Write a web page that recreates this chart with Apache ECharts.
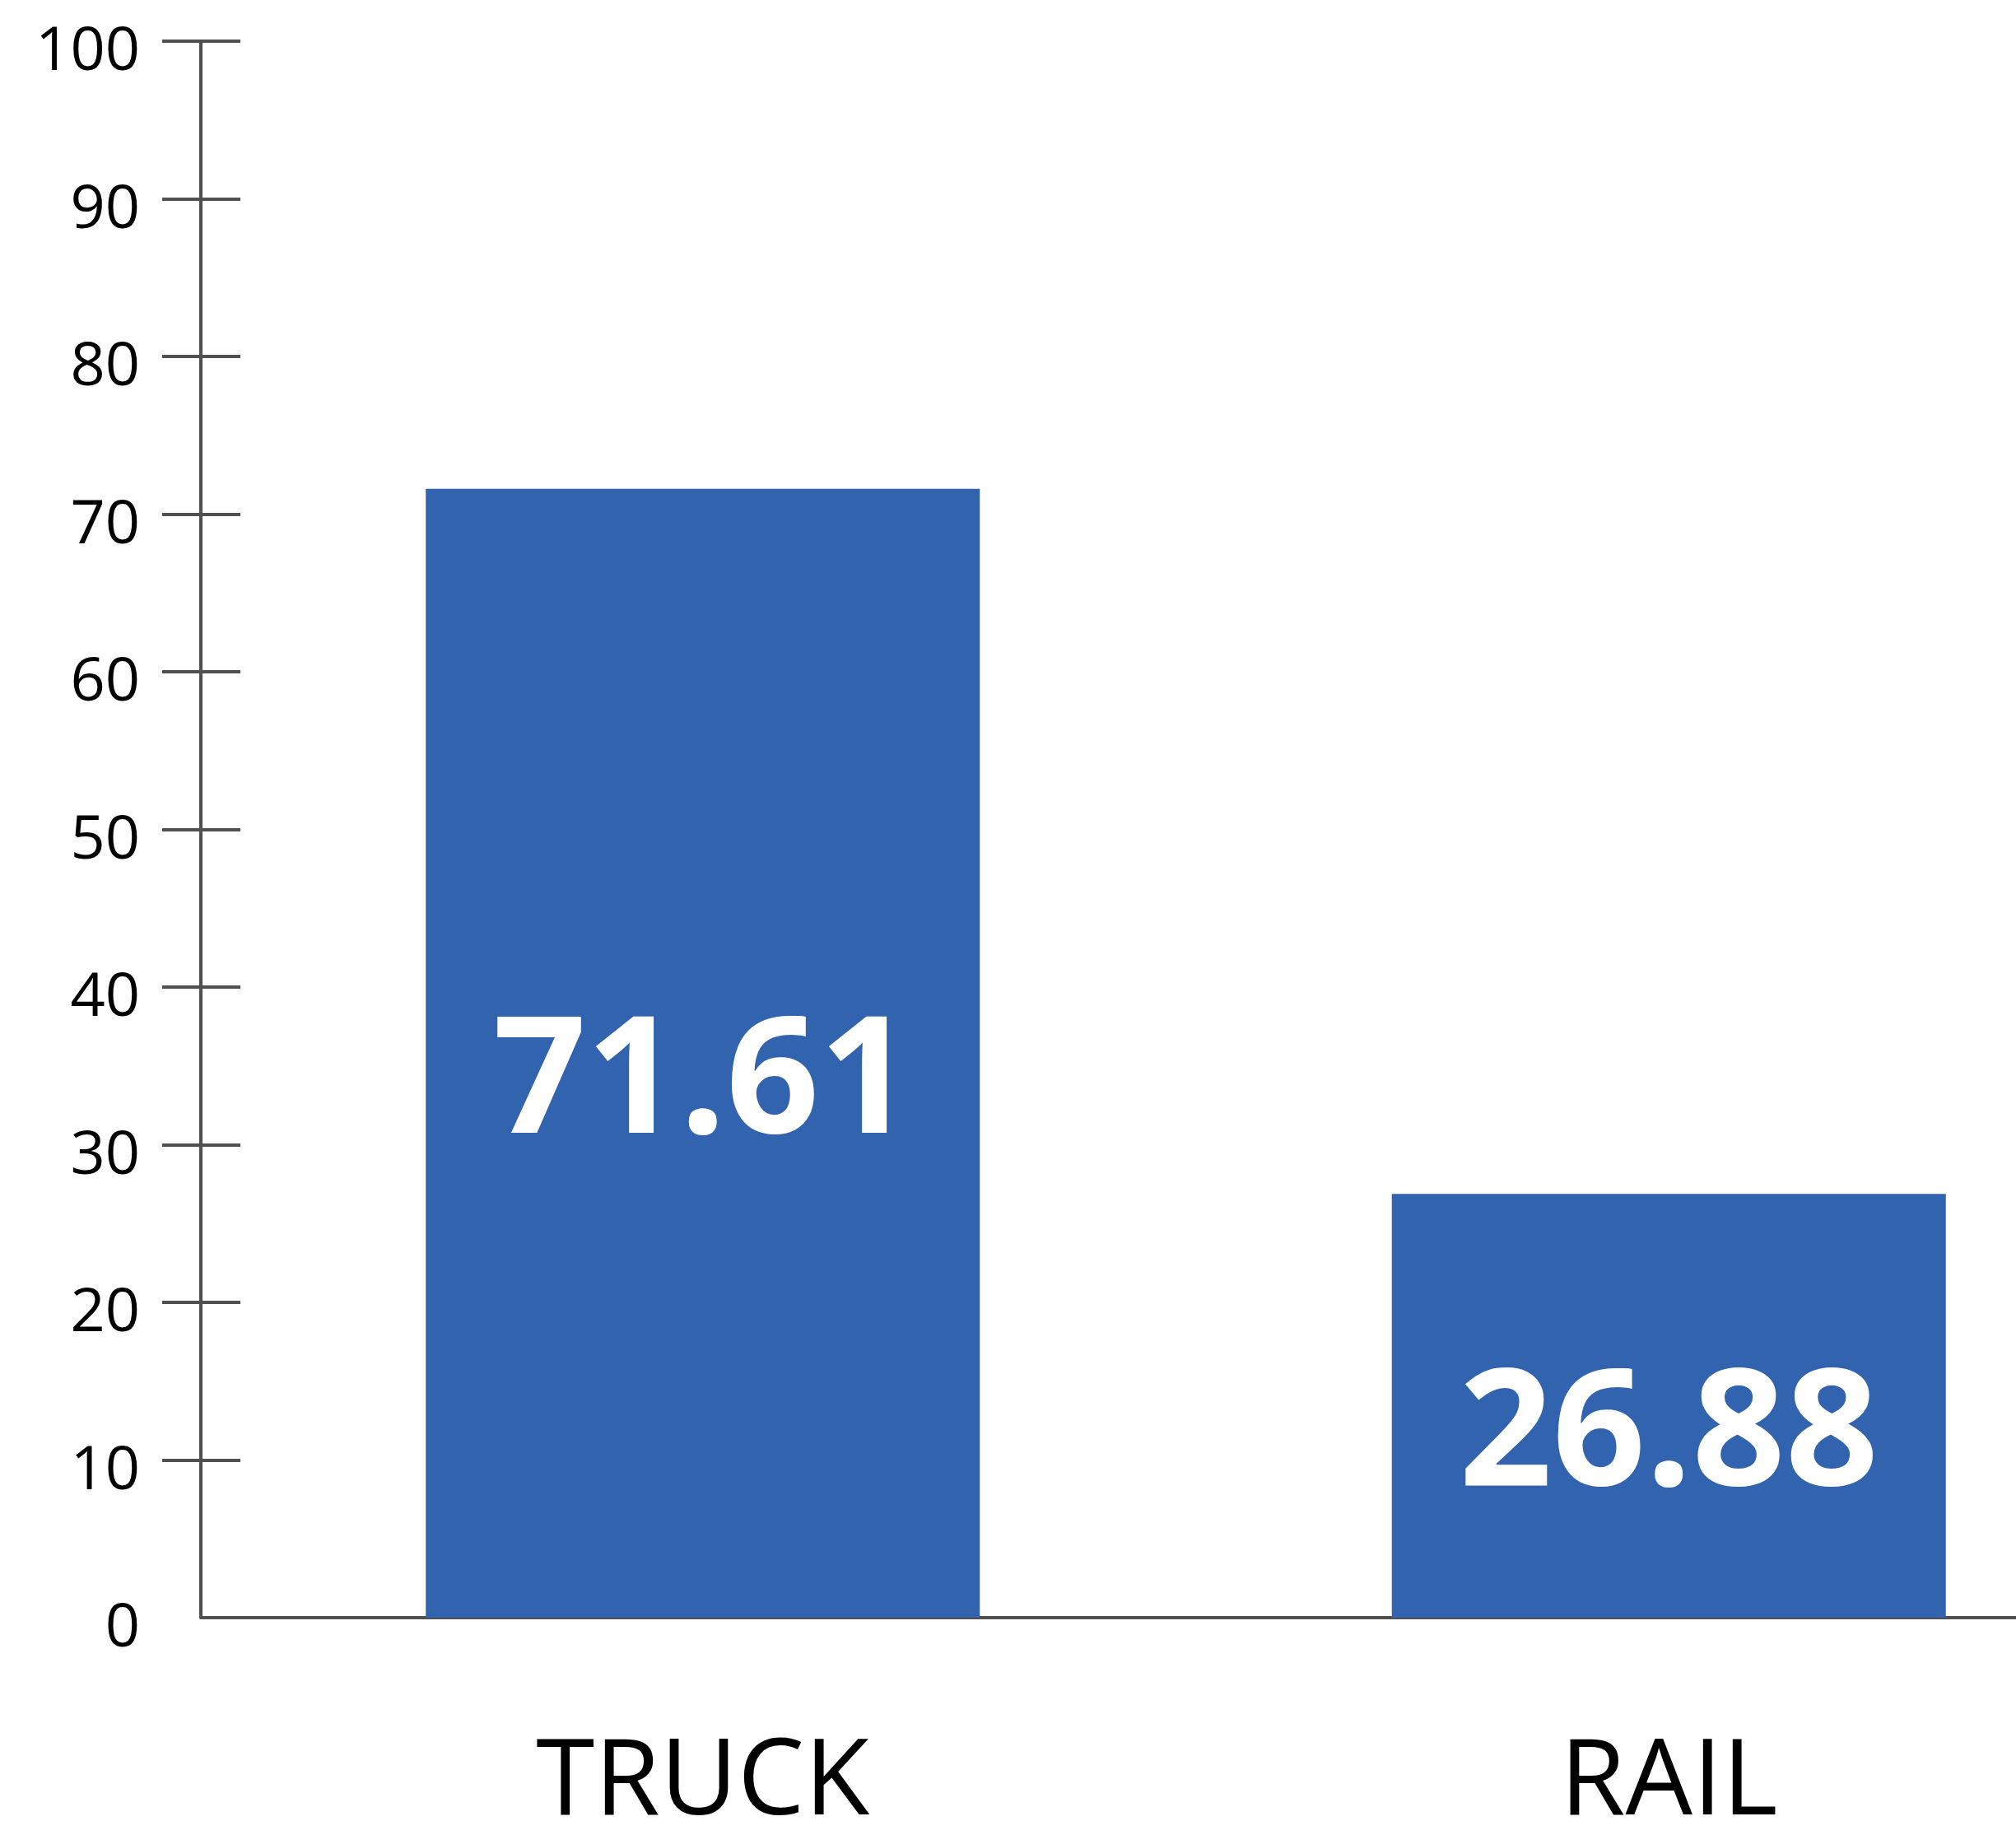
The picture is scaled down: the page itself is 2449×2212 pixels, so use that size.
<!DOCTYPE html>
<html>
<head>
<meta charset="utf-8">
<script src="https://cdn.jsdelivr.net/npm/echarts@6/dist/echarts.min.js"></script>
<style>
html,body{margin:0;padding:0;background:#fff;}
#chart{width:2449px;height:2212px;}
</style>
</head>
<body>
<div id="chart"></div>
<script>
const categories = ['TRUCK', 'RAIL'];
const values = [71.61, 26.88];
const yMin = 0, yMax = 100, yStep = 10;
const outerTickValues = [10, 20, 30, 40, 50, 60, 70, 80, 90, 100];
const innerTickValues = [0, 10, 20, 30, 40, 50, 60, 70, 80, 90, 100];

const axisGrey = '#505050';
const barBlue = '#3163ae';
const font = '"Open Sans", "Noto Sans", sans-serif';

const chart = echarts.init(document.getElementById('chart'));
chart.setOption({
  animation: false,
  backgroundColor: '#ffffff',
  grid: { left: 267, width: 2347, top: 50, bottom: 247, containLabel: false, outerBoundsMode: 'none' },
  xAxis: {
    type: 'category',
    data: categories,
    axisLine: { show: true, lineStyle: { color: axisGrey, width: 4 } },
    axisTick: { show: false },
    axisLabel: { color: '#000', fontFamily: font, fontSize: 129, margin: 138 }
  },
  yAxis: [
    {
      type: 'value', min: yMin, max: yMax, interval: yStep, position: 'left', offset: 23,
      axisLine: { show: true, lineStyle: { color: axisGrey, width: 4 } },
      axisTick: { show: true, inside: false, length: 47, lineStyle: { color: axisGrey, width: 4 }, customValues: outerTickValues },
      axisLabel: { color: '#000', fontFamily: font, fontSize: 74, margin: 74, verticalAlign: 'top', lineHeight: 28 },
      splitLine: { show: false }
    },
    {
      type: 'value', min: yMin, max: yMax, interval: yStep, position: 'left', offset: 23,
      axisLine: { show: false },
      axisTick: { show: true, inside: true, length: 48, lineStyle: { color: axisGrey, width: 4 }, customValues: innerTickValues },
      axisLabel: { show: false },
      splitLine: { show: false }
    }
  ],
  series: [{
    type: 'bar',
    yAxisIndex: 0,
    data: values,
    barWidth: 673,
    itemStyle: { color: barBlue },
    label: {
      show: true,
      position: 'inside',
      offset: [0, 40],
      color: '#fff',
      fontFamily: font,
      fontWeight: 'bold',
      fontSize: 198,
      formatter: p => p.value.toFixed(2)
    }
  }]
});
</script>
</body>
</html>
